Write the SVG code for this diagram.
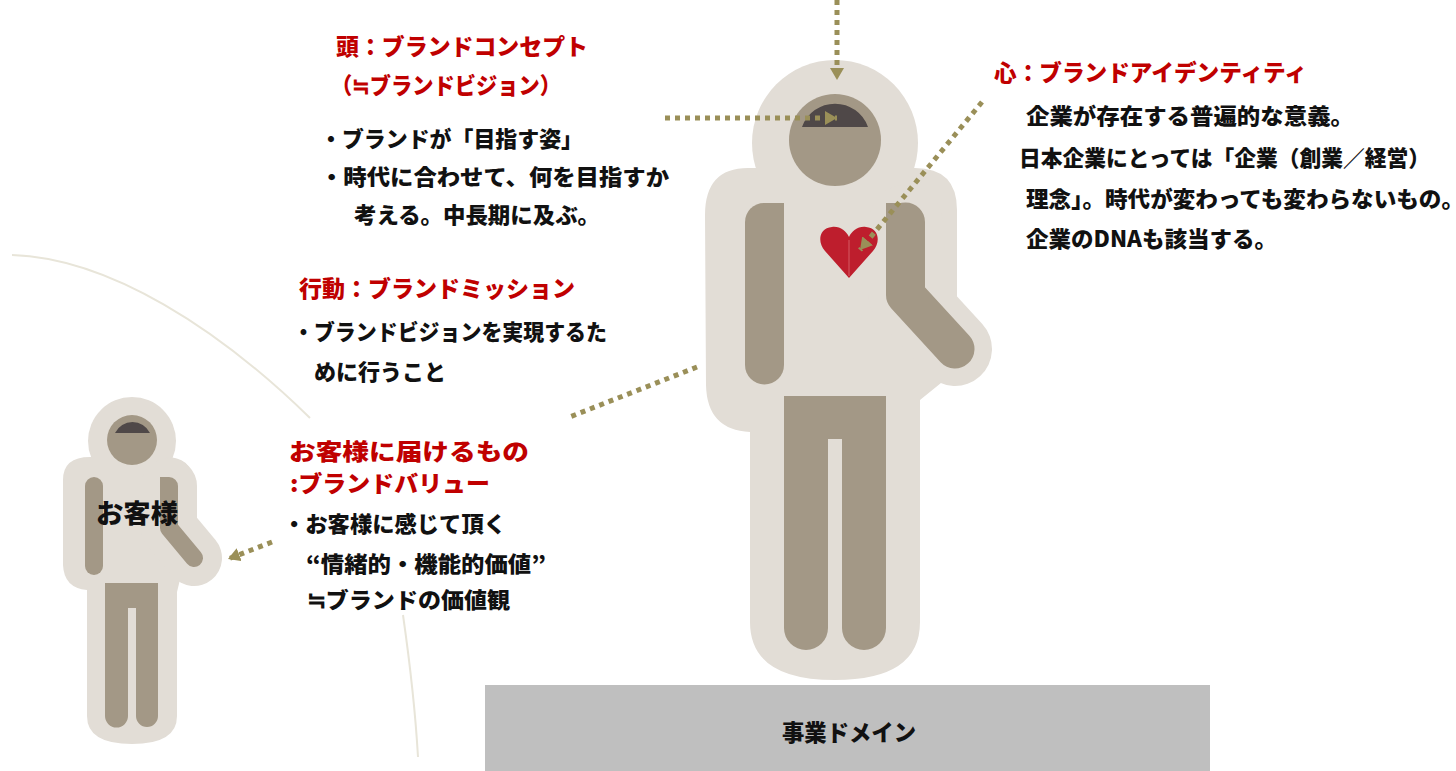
<svg xmlns="http://www.w3.org/2000/svg" width="1456" height="771" viewBox="0 0 1456 771">
  <defs>
    <style>
      .halo { fill: #E2DDD6; }
      .halo-line { fill: none; stroke: #E2DDD6; stroke-linecap: round; stroke-linejoin: round; }
      .part { fill: #A39886; }
      .part-line { fill: none; stroke: #A39886; stroke-linecap: round; stroke-linejoin: round; }
      .cap { fill: #4F4848; }
      .dots { fill: none; stroke: #9A8F58; stroke-width: 5; stroke-dasharray: 5 5; }
      .orbit { fill: none; stroke: #E8E5D9; stroke-width: 2; }
      text { font-family: "Noto Sans CJK JP", "Noto Sans", sans-serif; font-weight: 900; }
      .title { fill: #C00000; font-size: 23px; }
      .body { fill: #111111; font-size: 22px; }
    </style>
    <marker id="tip" viewBox="0 0 12 14" refX="12" refY="7" markerWidth="12" markerHeight="14" markerUnits="userSpaceOnUse" orient="auto">
      <path d="M0,0 L12,7 L0,14 Z" fill="#9A8F58"/>
    </marker>
  </defs>

  <rect width="1456" height="771" fill="#FFFFFF"/>

  <!-- orbit arcs around the customer -->
  <g id="orbit">
    <path class="orbit" d="M12,255 C110,258 220,330 310,418"/>
    <path class="orbit" d="M403,615 C408,650 415,705 418,757"/>
  </g>

  <!-- business domain base -->
  <g id="domain">
    <rect x="485" y="685" width="725" height="86" fill="#BFBFBF"/>
    <text x="782" y="741" font-size="23" fill="#111111" textLength="134" lengthAdjust="spacingAndGlyphs">事業ドメイン</text>
  </g>

  <!-- brand figure -->
  <g id="brand-figure">
    <circle class="halo" cx="835" cy="143" r="83"/>
    <path class="halo" d="M748,168 L915,168 Q957,168 957,210 L957,370 L920,400 L920,622 Q920,680 835,680 Q750,680 750,622 L750,432 Q707,430 706,385 L705,215 Q705,168 748,168 Z"/>
    <polyline class="halo-line" stroke-width="74" points="905.5,222 905.5,295 955,349"/>
    <circle class="part" cx="835" cy="140" r="46"/>
    <path class="cap" d="M802,127 A35,35 0 0 1 868,127 Z"/>
    <path class="part" d="M784,203 V365 A19.5,19.5 0 0 1 745,365 V222 A19,19 0 0 1 764,203 Z"/>
    <polyline class="part-line" stroke-width="39" points="905.5,222 905.5,295 955,349"/>
    <rect class="part" x="886" y="203" width="20" height="20"/>
    <path class="part" d="M784,396 H886 V628 A22,22 0 0 1 842,628 V439 H828 V628 A22,22 0 0 1 784,628 Z"/>
    <path d="M849,278 L825,251 C817,242 819,228 832,227 C840,226 846,231 849,237 C852,231 858,226 866,227 C879,228 881,242 873,251 Z" fill="#BE1E2D"/>
    <line x1="849" y1="240" x2="849" y2="276" stroke="#D45A64" stroke-width="1"/>
  </g>

  <!-- customer figure -->
  <g id="customer">
    <circle class="halo" cx="132" cy="441" r="44"/>
    <path class="halo" d="M90,457 L165,457 Q192,457 192,480 L192,530 L177,592 L177,716 Q177,744 132,744 Q87,744 87,716 L87,590 Q64,588 63,565 L63,480 Q63,457 90,457 Z"/>
    <polyline class="halo-line" stroke-width="56" points="169,486 169,528 194,558"/>
    <circle class="part" cx="132" cy="440" r="25"/>
    <path class="cap" d="M115,433 A19.5,19.5 0 0 1 150,433 Z"/>
    <rect class="part" x="85" y="477" width="18" height="98" rx="9"/>
    <polyline class="part-line" stroke-width="18" points="169,486 169,528 194,558"/>
    <rect class="part" x="160" y="477" width="9" height="9"/>
    <path class="part" d="M105,583 H158 V716 A11,11 0 0 1 136,716 V608 H128 V716 A11.5,11.5 0 0 1 105,716 Z"/>
    <text x="96" y="523" font-size="26" fill="#111111" textLength="82" lengthAdjust="spacingAndGlyphs">お客様</text>
  </g>

  <!-- dotted connectors -->
  <g id="connectors">
    <line class="dots" x1="837" y1="0" x2="837" y2="80" marker-end="url(#tip)"/>
    <line class="dots" x1="665" y1="118" x2="837" y2="118" marker-end="url(#tip)"/>
    <line class="dots" x1="982" y1="102" x2="860" y2="250" marker-end="url(#tip)"/>
    <line class="dots" x1="697" y1="367" x2="567" y2="418"/>
    <line class="dots" x1="272" y1="542" x2="228" y2="559" marker-end="url(#tip)"/>
  </g>

  <!-- head: brand concept -->
  <g id="concept">
    <text class="title" x="336" y="55" textLength="252" lengthAdjust="spacingAndGlyphs">頭：ブランドコンセプト</text>
    <text class="title" x="331" y="94" font-size="22" textLength="230" lengthAdjust="spacingAndGlyphs">（≒ブランドビジョン）</text>
    <text class="body" x="320" y="147" textLength="263" lengthAdjust="spacingAndGlyphs">・ブランドが「目指す姿」</text>
    <text class="body" x="320" y="185" textLength="349" lengthAdjust="spacingAndGlyphs">・時代に合わせて、何を目指すか</text>
    <text class="body" x="354" y="223" textLength="246" lengthAdjust="spacingAndGlyphs">考える。中長期に及ぶ。</text>
  </g>

  <!-- heart: brand identity -->
  <g id="identity">
    <text class="title" x="994" y="81" textLength="313" lengthAdjust="spacingAndGlyphs">心：ブランドアイデンティティ</text>
    <text class="body" x="1026" y="124" textLength="328" lengthAdjust="spacingAndGlyphs">企業が存在する普遍的な意義。</text>
    <text class="body" x="1019" y="166" textLength="411" lengthAdjust="spacingAndGlyphs">日本企業にとっては「企業（創業／経営）</text>
    <text class="body" x="1026" y="207" textLength="438" lengthAdjust="spacingAndGlyphs">理念」。時代が変わっても変わらないもの。</text>
    <text class="body" x="1026" y="247" textLength="251" lengthAdjust="spacingAndGlyphs">企業のDNAも該当する。</text>
  </g>

  <!-- action: brand mission -->
  <g id="mission">
    <text class="title" x="299" y="297" textLength="276" lengthAdjust="spacingAndGlyphs">行動：ブランドミッション</text>
    <text class="body" x="293" y="340" font-size="21" textLength="314" lengthAdjust="spacingAndGlyphs">・ブランドビジョンを実現するた</text>
    <text class="body" x="314" y="380" textLength="132" lengthAdjust="spacingAndGlyphs">めに行うこと</text>
  </g>

  <!-- what reaches the customer: brand value -->
  <g id="value">
    <text class="title" x="289" y="460" font-size="25" textLength="240" lengthAdjust="spacingAndGlyphs">お客様に届けるもの</text>
    <text class="title" x="290" y="492" font-size="24" textLength="200" lengthAdjust="spacingAndGlyphs">:ブランドバリュー</text>
    <text class="body" x="283" y="532" textLength="223" lengthAdjust="spacingAndGlyphs">・お客様に感じて頂く</text>
    <text class="body" x="306" y="572" textLength="240" lengthAdjust="spacingAndGlyphs">“情緒的・機能的価値”</text>
    <text class="body" x="307" y="608" textLength="203" lengthAdjust="spacingAndGlyphs">≒ブランドの価値観</text>
  </g>
</svg>
